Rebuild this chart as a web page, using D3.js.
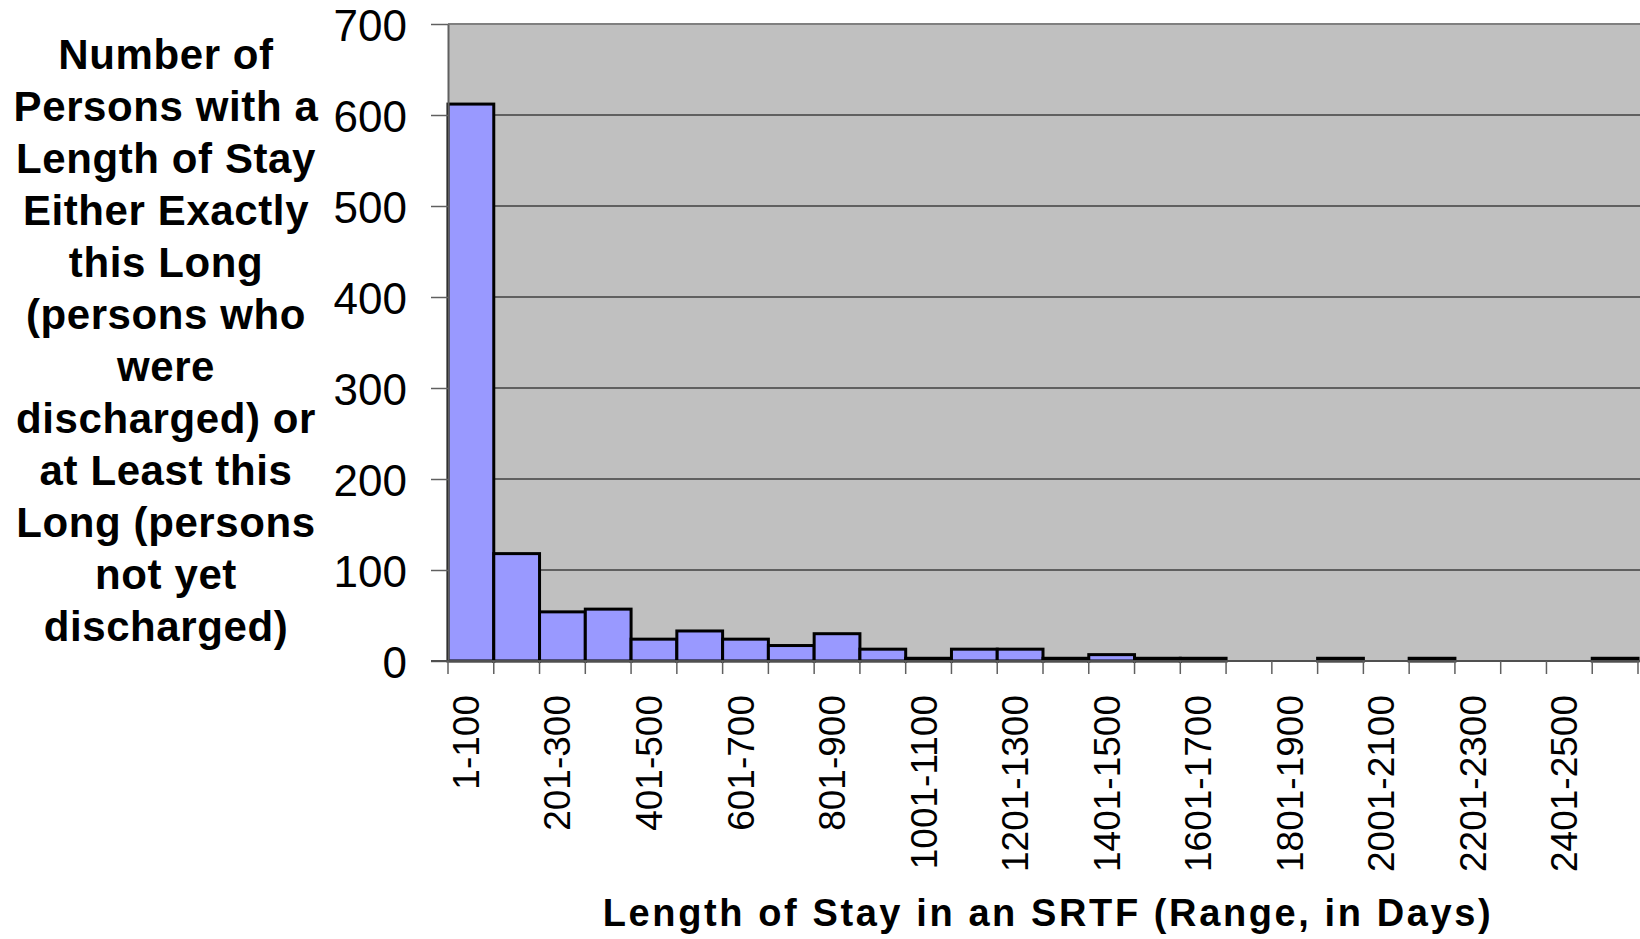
<!DOCTYPE html>
<html><head><meta charset="utf-8">
<script src="https://cdn.jsdelivr.net/npm/d3@7"></script>
<style>body{margin:0;background:#fff;}svg{display:block;font-family:"Liberation Sans",Arial,sans-serif;}</style>
</head><body>
<svg id="chart" width="1640" height="939"></svg>
<script>
const categories = ["1-100","101-200","201-300","301-400","401-500","501-600","601-700","701-800","801-900","901-1000",
  "1001-1100","1101-1200","1201-1300","1301-1400","1401-1500","1501-1600","1601-1700","1701-1800","1801-1900","1901-2000",
  "2001-2100","2101-2200","2201-2300","2301-2400","2401-2500","2501-2600"];
const counts = [612,118,54,57,24,33,24,17,30,13,3,13,13,3,7,3,3,0,0,3,0,3,0,0,0,3];
const yTicks = [0,100,200,300,400,500,600,700];
const yTitleLines = ["Number of","Persons with a","Length of Stay","Either Exactly","this Long","(persons who","were","discharged) or","at Least this","Long (persons","not yet","discharged)"];
const xTitle = "Length of Stay in an SRTF (Range, in Days)";

const svg = d3.select("#chart");
const L = 448, R = 1638, T = 24, B = 661;
const x = d3.scaleBand().domain(categories).range([L, R]).padding(0);
const y = d3.scaleLinear().domain([0, 700]).range([B, T]);

// plot background
svg.append("rect").attr("x", L).attr("y", T).attr("width", 1640 - L).attr("height", B - T).attr("fill", "#c0c0c0");

// gridlines
svg.append("g").selectAll("line").data(yTicks.filter(v => v > 0 && v < 700)).join("line")
  .attr("x1", L).attr("x2", 1640).attr("y1", d => y(d)).attr("y2", d => y(d))
  .attr("stroke", "#000").attr("stroke-width", 1);
// top border
svg.append("line").attr("x1", L).attr("x2", 1640).attr("y1", y(700)).attr("y2", y(700)).attr("stroke", "#808080").attr("stroke-width", 2);

// bars
svg.append("g").selectAll("rect").data(categories).join("rect")
  .attr("x", d => x(d)).attr("width", x.bandwidth())
  .attr("y", (d, i) => y(counts[i])).attr("height", (d, i) => y(0) - y(counts[i]))
  .attr("fill", "#9999ff").attr("stroke", "#000").attr("stroke-width", 3);

// y axis
const yAxis = svg.append("g").attr("transform", `translate(${L},0)`)
  .call(d3.axisLeft(y).tickValues(yTicks).tickSize(17).tickPadding(24).tickSizeOuter(0));
yAxis.select(".domain").attr("stroke", "#606060").attr("stroke-width", 2);
yAxis.selectAll(".tick line").attr("stroke", "#606060").attr("stroke-width", 1.5);
yAxis.selectAll(".tick text").attr("font-size", 44).attr("fill", "#000").attr("font-family", "Liberation Sans, Arial, sans-serif").attr("dy", "0.38em");

// x axis baseline
svg.append("line").attr("x1", L - 17).attr("x2", 1640).attr("y1", B).attr("y2", B).attr("stroke", "#505050").attr("stroke-width", 2);
// x ticks at bin boundaries
const bounds = categories.map(c => x(c)).concat([R]);
svg.append("g").selectAll("line").data(bounds).join("line")
  .attr("x1", d => d).attr("x2", d => d).attr("y1", B).attr("y2", B + 13)
  .attr("stroke", "#606060").attr("stroke-width", 1.5);

// x labels (every other)
svg.append("g").selectAll("text").data(categories.filter((c, i) => i % 2 === 0)).join("text")
  .attr("transform", d => `translate(${x(d) + x.bandwidth() / 2 + 8},${B + 34}) rotate(-90)`)
  .attr("text-anchor", "end").attr("font-size", 37).attr("fill", "#000").text(d => d);

// y title
const yt = svg.append("text").attr("text-anchor", "middle").attr("font-weight", "bold").attr("font-size", 42)
  .attr("letter-spacing", 0.6).attr("fill", "#000");
yt.selectAll("tspan").data(yTitleLines).join("tspan")
  .attr("x", 166).attr("y", (d, i) => 69 + i * 52).text(d => d);

// x title
svg.append("text").attr("x", 1048).attr("y", 926).attr("text-anchor", "middle").attr("font-weight", "bold")
  .attr("font-size", 38).attr("letter-spacing", 2.6).attr("fill", "#000").text(xTitle);
</script>
</body></html>
